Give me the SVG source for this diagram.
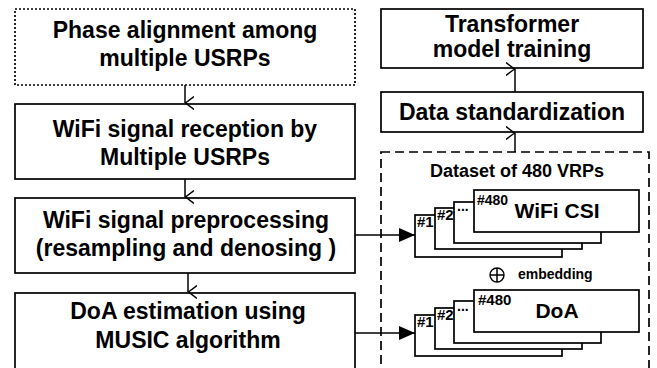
<svg xmlns="http://www.w3.org/2000/svg" width="657" height="368" viewBox="0 0 657 368">
<defs>
<marker id="v" viewBox="0 0 14 9" refX="7" refY="9" markerWidth="14" markerHeight="9" markerUnits="userSpaceOnUse" orient="auto-start-reverse">
<path d="M0.5,0 L7,8.5 L13.5,0" fill="none" stroke="#000" stroke-width="1.4"/>
</marker>
<marker id="tri" viewBox="0 0 16 14" refX="16" refY="7" markerWidth="16" markerHeight="14" markerUnits="userSpaceOnUse" orient="auto">
<path d="M0,0 L16,7 L0,14 Z" fill="#000"/>
</marker>
</defs>
<style>
.box{fill:#fff;stroke:#000;stroke-width:1.7}
.t{font-family:"Liberation Sans",Arial,sans-serif;font-weight:bold;font-size:23px;text-anchor:middle;fill:#000}
.m{font-family:"Liberation Sans",Arial,sans-serif;font-weight:bold;font-size:21px;text-anchor:middle;fill:#000}
.s{font-family:"Liberation Sans",Arial,sans-serif;font-weight:bold;fill:#000}
.ln{stroke:#000;stroke-width:1.5;fill:none}
</style>
<rect width="657" height="368" fill="#fff"/>
<g id="n1">
<rect class="box" x="15" y="9" width="340" height="76" stroke-dasharray="2,2"/>
<text class="t" x="185" y="38">Phase alignment among</text>
<text class="t" x="185" y="66">multiple USRPs</text>
</g>
<g id="n2">
<rect class="box" x="15" y="104" width="340" height="75"/>
<text class="t" x="185" y="137">WiFi signal reception by</text>
<text class="t" x="185" y="165">Multiple USRPs</text>
</g>
<g id="n3">
<rect class="box" x="15" y="198" width="340" height="75"/>
<text class="t" x="186" y="228">WiFi signal preprocessing</text>
<text class="t" x="186" y="256">(resampling and denosing )</text>
</g>
<g id="n4">
<rect class="box" x="15" y="293" width="340" height="90"/>
<text class="t" x="188" y="319">DoA estimation using</text>
<text class="t" x="188" y="348">MUSIC algorithm</text>
</g>
<g id="n5">
<rect class="box" x="381" y="9" width="262" height="59"/>
<text class="t" x="512" y="32">Transformer</text>
<text class="t" x="512" y="57">model training</text>
</g>
<g id="n6">
<rect class="box" x="381" y="92" width="262" height="40"/>
<text class="t" x="512" y="120">Data standardization</text>
</g>
<g id="n7">
<rect x="381" y="152" width="268" height="230" fill="none" stroke="#000" stroke-width="1.7" stroke-dasharray="9,5"/>
<text class="s" x="517" y="177" font-size="18" text-anchor="middle">Dataset of 480 VRPs</text>
</g>
<g id="n8">
<rect class="box" x="415" y="215" width="147" height="42"/>
<rect class="box" x="435" y="208" width="147" height="41"/>
<rect class="box" x="454" y="202" width="147" height="41"/>
<rect class="box" x="474" y="190" width="165" height="42"/>
<text class="s" x="417" y="227" font-size="15">#1</text>
<text class="s" x="437" y="220" font-size="15">#2</text>
<text class="s" x="457" y="211" font-size="14">...</text>
<text class="s" x="477" y="205" font-size="14">#480</text>
<text class="m" x="557" y="218">WiFi CSI</text>
</g>
<g id="n9">
<circle cx="497" cy="275" r="7" fill="none" stroke="#000" stroke-width="1.4"/>
<path d="M490,275 H504 M497,268 V282" class="ln" stroke-width="1.4"/>
<text class="s" x="518" y="279" font-size="14">embedding</text>
</g>
<g id="n10">
<rect class="box" x="415" y="315" width="147" height="41"/>
<rect class="box" x="435" y="308" width="147" height="41"/>
<rect class="box" x="454" y="301" width="147" height="42"/>
<rect class="box" x="474" y="290" width="165" height="42"/>
<text class="s" x="417" y="327" font-size="15">#1</text>
<text class="s" x="437" y="320" font-size="15">#2</text>
<text class="s" x="457" y="311" font-size="14">...</text>
<text class="s" x="478" y="305" font-size="15">#480</text>
<text class="m" x="557" y="318">DoA</text>
</g>
<g id="edges">
<line class="ln" x1="185" y1="85" x2="185" y2="103" marker-end="url(#v)"/>
<line class="ln" x1="185" y1="179" x2="185" y2="197" marker-end="url(#v)"/>
<line class="ln" x1="188" y1="273" x2="188" y2="292" marker-end="url(#v)"/>
<line class="ln" x1="515" y1="92" x2="515" y2="69" marker-end="url(#v)"/>
<line class="ln" x1="515" y1="152" x2="515" y2="133" marker-end="url(#v)"/>
<line class="ln" x1="355" y1="235" x2="415" y2="235" marker-end="url(#tri)"/>
<line class="ln" x1="355" y1="333" x2="415" y2="333" marker-end="url(#tri)"/>
</g>
</svg>
